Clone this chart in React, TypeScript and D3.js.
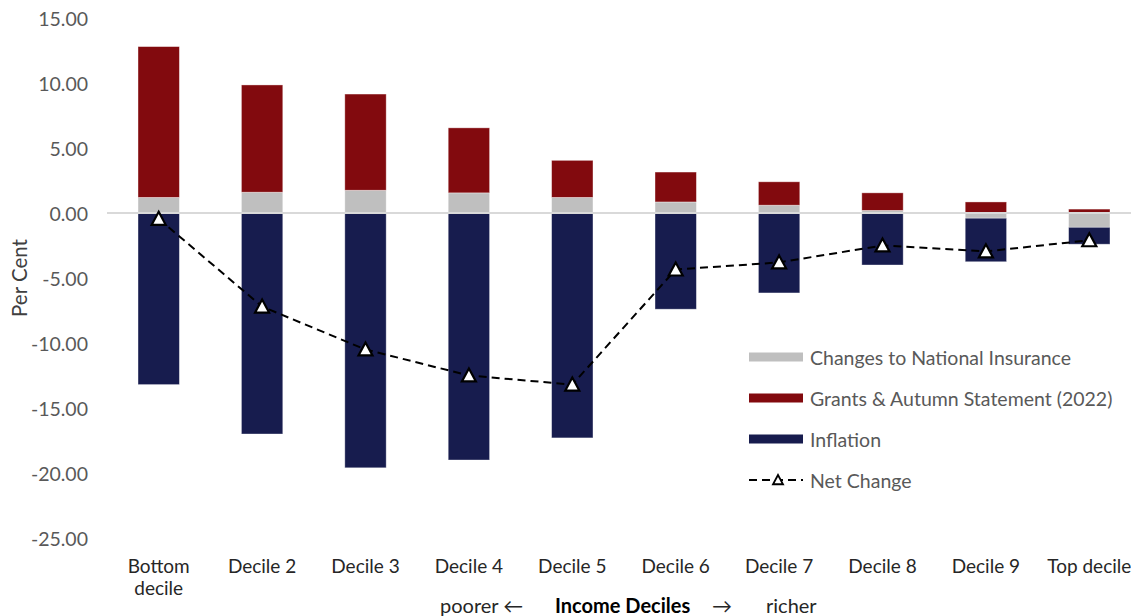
import React from "react";
import * as d3 from "d3";

// Income deciles, poorest to richest
const deciles = [
  "Bottom decile",
  "Decile 2",
  "Decile 3",
  "Decile 4",
  "Decile 5",
  "Decile 6",
  "Decile 7",
  "Decile 8",
  "Decile 9",
  "Top decile",
];

// Per cent change in disposable income by component
const nationalInsurance = [1.2, 1.6, 1.75, 1.55, 1.2, 0.85, 0.6, 0.2, -0.4, -1.1];
const grantsAutumn = [11.6, 8.25, 7.4, 5.0, 2.85, 2.3, 1.8, 1.35, 0.85, 0.3];
const inflation = [-13.2, -17.0, -19.6, -19.0, -17.3, -7.4, -6.15, -4.0, -3.35, -1.3];
const netChange = [-0.45, -7.2, -10.5, -12.5, -13.2, -4.35, -3.8, -2.5, -2.95, -2.1];

const yTicks = [15, 10, 5, 0, -5, -10, -15, -20, -25];

const seriesKeys = ["ni", "grants", "inflation"] as const;
const seriesColors: Record<string, string> = {
  ni: "#BFBFBF",
  grants: "#820A0E",
  inflation: "#171C4E",
};

const legendItems = [
  { key: "ni", label: "Changes to National Insurance" },
  { key: "grants", label: "Grants & Autumn Statement (2022)" },
  { key: "inflation", label: "Inflation" },
];

const W = 1131;
const H = 616;
const FONT = "Lato, 'Open Sans', sans-serif";

export default function App() {
  const x = d3
    .scaleBand<string>()
    .domain(deciles)
    .range([107, 1141])
    .paddingInner(0.6)
    .paddingOuter(0.3);
  const y = d3.scaleLinear().domain([-25, 15]).range([538, 18]);

  const rows = deciles.map((d, i) => ({
    decile: d,
    ni: nationalInsurance[i],
    grants: grantsAutumn[i],
    inflation: inflation[i],
  }));

  const stacked = d3
    .stack<any>()
    .keys(seriesKeys as unknown as string[])
    .offset(d3.stackOffsetDiverging)(rows);

  const cx = (d: string) => (x(d) ?? 0) + x.bandwidth() / 2;

  const line = d3
    .line<number>()
    .x((_, i) => cx(deciles[i]))
    .y((v) => y(v));

  const tri = (s: number) => `M0,${-s} L${s},${s * 0.85} L${-s},${s * 0.85} Z`;

  const legendY = [357, 398, 439, 480];

  return (
    <svg
      width={W}
      height={H}
      style={{ position: "absolute", left: 0, top: 0, display: "block", overflow: "hidden" }}
      fontFamily={FONT}
    >
      <rect width={W} height={H} fill="#ffffff" />

      {/* y axis tick labels */}
      {yTicks.map((t) => (
        <text
          key={t}
          x={88}
          y={y(t)}
          textAnchor="end"
          dominantBaseline="central"
          fontSize={19.5}
          fill="#595959"
        >
          {t.toFixed(2)}
        </text>
      ))}
      <text
        transform={`translate(19,${y(-5)}) rotate(-90)`}
        textAnchor="middle"
        dominantBaseline="central"
        fontSize={20.5}
        fill="#404040"
      >
        Per Cent
      </text>

      {/* stacked bars */}
      {stacked.map((layer) => (
        <g key={layer.key} fill={seriesColors[layer.key]}>
          {layer.map((seg, i) => {
            const y0 = y(Math.max(seg[0], seg[1]));
            const y1 = y(Math.min(seg[0], seg[1]));
            return (
              <rect
                key={i}
                x={x(deciles[i])}
                y={y0}
                width={x.bandwidth()}
                height={Math.max(0, y1 - y0)}
                stroke="#ffffff"
                strokeOpacity={0.45}
                strokeWidth={0.8}
              />
            );
          })}
        </g>
      ))}

      {/* zero line */}
      <line x1={107} x2={W} y1={y(0)} y2={y(0)} stroke="#D9D9D9" strokeWidth={2} />

      {/* net change line */}
      <path
        d={line(netChange) ?? ""}
        fill="none"
        stroke="#000000"
        strokeWidth={2}
        strokeDasharray="8,5"
      />
      {netChange.map((v, i) => (
        <path
          key={i}
          d={tri(7)}
          transform={`translate(${cx(deciles[i])},${y(v)})`}
          fill="#ffffff"
          stroke="#000000"
          strokeWidth={2.2}
          strokeLinejoin="miter"
        />
      ))}

      {/* x axis category labels */}
      {deciles.map((d) => {
        const parts = d === "Bottom decile" ? ["Bottom", "decile"] : [d];
        return (
          <text
            key={d}
            x={cx(d)}
            y={565}
            textAnchor="middle"
            dominantBaseline="central"
            fontSize={19}
            fill="#262626"
          >
            {parts.map((p, k) => (
              <tspan key={k} x={cx(d)} dy={k === 0 ? 0 : 22}>
                {p}
              </tspan>
            ))}
          </text>
        );
      })}

      {/* x axis title */}
      <text y={605} dominantBaseline="central" fontSize={20} fill="#262626">
        <tspan x={440}>poorer ←</tspan>
        <tspan x={555} fontWeight="bold" fill="#000000">
          Income Deciles
        </tspan>
        <tspan x={712}>→</tspan>
        <tspan x={766}>richer</tspan>
      </text>

      {/* legend */}
      {legendItems.map((item, i) => (
        <g key={item.key}>
          <rect x={749} y={legendY[i] - 4.5} width={54} height={9} fill={seriesColors[item.key]} />
          <text
            x={810}
            y={legendY[i]}
            dominantBaseline="central"
            fontSize={19.5}
            fill="#595959"
          >
            {item.label}
          </text>
        </g>
      ))}
      <g>
        <line
          x1={749}
          x2={803}
          y1={legendY[3]}
          y2={legendY[3]}
          stroke="#000000"
          strokeWidth={2}
          strokeDasharray="8,5"
        />
        <path
          d={tri(5)}
          transform={`translate(778,${legendY[3]})`}
          fill="#ffffff"
          stroke="#000000"
          strokeWidth={1.8}
        />
        <text x={810} y={legendY[3]} dominantBaseline="central" fontSize={19.5} fill="#595959">
          Net Change
        </text>
      </g>
    </svg>
  );
}
